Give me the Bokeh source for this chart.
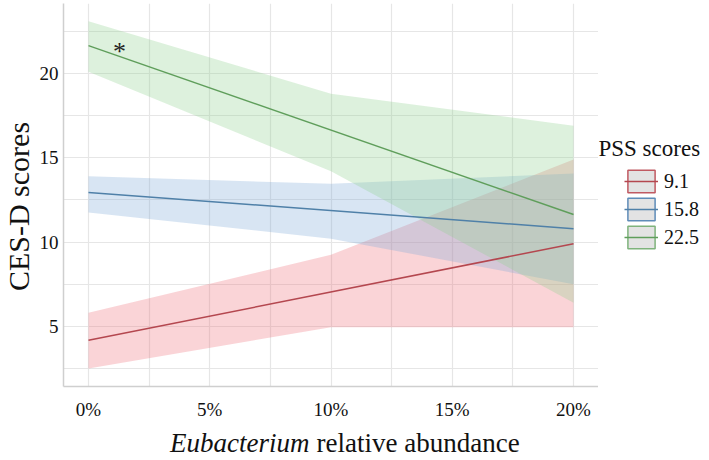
import math
from bokeh.plotting import figure
from bokeh.layouts import row, column
from bokeh.models import (ColumnDataSource, Legend, LegendItem, Label, FixedTicker,
                          NumeralTickFormatter, Range1d)
from bokeh.core.properties import value
from bokeh.embed import file_html
from bokeh.resources import INLINE

# ---- data ----
abundance = [0.0, 0.10, 0.20]           # Eubacterium relative abundance
line_x = [0.0, 0.20]

pss_levels = ["9.1", "15.8", "22.5"]

fit_91 = [4.17, 9.90]
fit_158 = [12.94, 10.79]
fit_225 = [21.65, 11.63]

lo_91 = [2.50, 4.95, 4.95]
hi_91 = [5.80, 9.24, 14.90]
lo_158 = [11.75, 10.20, 7.50]
hi_158 = [13.90, 13.45, 14.07]
lo_225 = [20.10, 14.20, 6.40]
hi_225 = [23.10, 18.80, 16.90]

x_ticks = [0.0, 0.05, 0.10, 0.15, 0.20]
x_minor = [0.025, 0.075, 0.125, 0.175]
y_ticks = [5, 10, 15, 20]
y_minor = [2.5, 7.5, 12.5, 17.5, 22.5]

star_x = [0.0128]
star_y = [21.3]

SERIF = "Liberation Serif"
INK = "#111111"

line_colors = ["#b4474f", "#4f80a8", "#5f9e5b"]
fill_colors = ["#f0707a", "#7fa8d6", "#90d090"]
box_borders = ["#c05a62", "#5f8cb8", "#7fb37c"]

TOP_H = 425


def blank(w, h):
    f = figure(width=w, height=h, output_backend="svg", toolbar_location=None,
               x_axis_location=None, y_axis_location=None,
               x_range=Range1d(0, 1), y_range=Range1d(0, 1),
               min_border=0, min_border_left=0, min_border_right=0,
               min_border_top=0, min_border_bottom=0, frame_align=False)
    f.grid.visible = False
    f.outline_line_color = None
    f.border_fill_color = "white"
    f.background_fill_color = "white"
    return f


# ---- main plot ----
p = figure(width=562, height=TOP_H, output_backend="svg", toolbar_location=None,
           x_range=Range1d(-0.0103, 0.2103), y_range=Range1d(1.43, 24.15),
           min_border_left=26, min_border_right=0, min_border_top=3,
           min_border_bottom=39, frame_align=False)
p.outline_line_color = None
p.background_fill_color = "white"
p.border_fill_color = "white"

bands = [(lo_91, hi_91), (lo_158, hi_158), (lo_225, hi_225)]
fits = [fit_91, fit_158, fit_225]

for (lo, hi), fc in zip(bands, fill_colors):
    src = ColumnDataSource(dict(x=abundance, lo=lo, hi=hi))
    p.varea(x="x", y1="lo", y2="hi", source=src, fill_color=fc, fill_alpha=0.3)

for f, lc in zip(fits, line_colors):
    src = ColumnDataSource(dict(x=line_x, y=f))
    p.line(x="x", y="y", source=src, line_color=lc, line_width=1.5)

p.text(x=star_x, y=star_y, text=["*"], text_font=value(SERIF), text_font_size="26px",
       text_align="center", text_baseline="middle", text_color="#222222")

p.xaxis.ticker = FixedTicker(ticks=x_ticks, minor_ticks=x_minor)
p.yaxis.ticker = FixedTicker(ticks=y_ticks, minor_ticks=y_minor)
p.xaxis.formatter = NumeralTickFormatter(format="0%")
for ax in (p.xaxis[0], p.yaxis[0]):
    ax.major_tick_line_color = None
    ax.minor_tick_line_color = None
    ax.major_tick_out = 0
    ax.minor_tick_out = 0
    ax.axis_line_color = "#cfcfcf"
    ax.axis_line_width = 1.5
    ax.major_label_text_font = SERIF
    ax.major_label_text_font_size = "19px"
    ax.major_label_text_color = INK
p.xaxis.major_label_standoff = 12
p.yaxis.major_label_standoff = 5

for g in (p.xgrid[0], p.ygrid[0]):
    g.grid_line_color = "#e6e6e6"
    g.grid_line_width = 1.2
    g.minor_grid_line_color = "#e6e6e6"
    g.minor_grid_line_width = 1.2

# ---- y-axis title ----
yt = blank(36, TOP_H)
yt.add_layout(Label(x=18, y=TOP_H - 206, x_units="screen", y_units="screen",
                    text="CES-D scores", angle=math.pi / 2, text_font=SERIF,
                    text_font_size="30px", text_color=INK,
                    text_align="center", text_baseline="middle"))

# ---- legend ----
lg = blank(111, TOP_H)
far = dict(x=[-5.0, -4.0], y=[-5.0, -4.0])   # legend-only glyphs, outside the view
items = []
for lab, bc, lc in zip(pss_levels, box_borders, line_colors):
    r_box = lg.rect(x="x", y="y", width=0.1, height=0.1,
                    source=ColumnDataSource(dict(far)),
                    fill_color="#e3e3e3", line_color=bc, line_width=1.5)
    r_ln = lg.line(x="x", y="y", source=ColumnDataSource(dict(far)),
                   line_color=lc, line_width=1.5)
    items.append(LegendItem(label=lab, renderers=[r_box, r_ln]))
legend = Legend(items=items, location=(26, TOP_H - 251), orientation="vertical",
                glyph_width=34, glyph_height=28, spacing=0, padding=0, margin=0,
                label_standoff=6, label_text_font=SERIF, label_text_font_size="20px",
                label_text_color=INK, border_line_color=None,
                background_fill_alpha=0)
lg.add_layout(legend, "center")
lg.add_layout(Label(x=0, y=TOP_H - 148, x_units="screen", y_units="screen",
                    text="PSS scores", text_font=SERIF, text_font_size="23px",
                    text_color=INK, text_baseline="middle", text_align="left"))

# ---- x-axis title ----
xt = blank(709, 35)
xt.add_layout(Label(x=309, y=18, x_units="screen", y_units="screen",
                    text="Eubacterium", text_font=SERIF, text_font_size="27px",
                    text_font_style="italic", text_color=INK,
                    text_align="right", text_baseline="middle"))
xt.add_layout(Label(x=316, y=18, x_units="screen", y_units="screen",
                    text="relative abundance", text_font=SERIF, text_font_size="27px",
                    text_color=INK, text_align="left", text_baseline="middle"))

layout = column(row(yt, p, lg, spacing=0), xt, spacing=0)
open("out.html", "w").write(file_html(layout, INLINE))
